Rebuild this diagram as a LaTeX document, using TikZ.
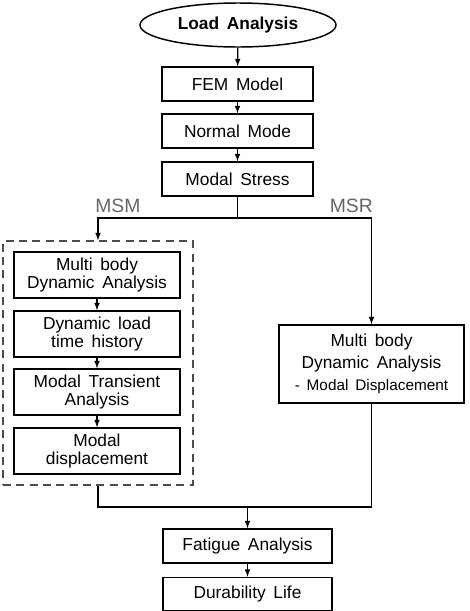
\documentclass[tikz,border=0pt]{standalone}
\usepackage{fontspec}
\setmainfont{Liberation Sans}[WordSpace=1.6]
\usepackage{tikz}
\usetikzlibrary{arrows,shapes.geometric}

\begin{document}
\begin{tikzpicture}[x=0.75pt,y=-0.75pt,>=latex,
    stepbox/.style={draw,line width=1.1pt,fill=white,inner sep=0pt,align=center,
        font=\fontsize{13}{13.5}\selectfont,minimum height=25.5pt},
    mainbox/.style={stepbox,minimum width=113.25pt},
    subbox/.style={stepbox,minimum width=124.5pt,minimum height=34.5pt},
    groupbox/.style={draw=black!70,line width=1.1pt,dash pattern=on 6pt off 4pt,
        minimum width=142.5pt,minimum height=183pt,inner sep=0pt},
    branch/.style={text=black!60,font=\fontsize{14.5}{15}\selectfont,inner sep=0pt},
    link/.style={line width=0.9pt}]
\useasboundingbox (0,0) rectangle (470,611);

    \node[draw,ellipse,line width=1.1pt,minimum width=147pt,minimum height=33pt,inner sep=0pt,
        font=\fontsize{13}{13}\selectfont\bfseries] (load) at (238,25) {Load Analysis};
    \node[mainbox] (fem) at (237.5,84) {FEM Model};
    \node[mainbox] (normal) at (237.5,131) {Normal Mode};
    \node[mainbox] (stress) at (237.5,179) {Modal Stress};

    % MSM branch
    \node[groupbox] (group) at (98,363) {};
    \node[subbox] (mbd) at (97,275) {Multi body\\Dynamic Analysis};
    \node[subbox] (dynload) at (97,334) {Dynamic load\\time history};
    \node[subbox] (transient) at (97,392) {Modal Transient\\Analysis};
    \node[subbox] (disp) at (97,451) {Modal\\displacement};

    % MSR branch
    \node[stepbox,minimum width=138.75pt,minimum height=58.5pt,
        font=\fontsize{13}{16.5}\selectfont] (mbdr) at (371.5,364)
        {Multi body\\Dynamic Analysis\\{\fontsize{11.5}{12}\selectfont - Modal Displacement}};

    \node[stepbox,minimum width=126.75pt] (fatigue) at (247.5,546) {Fatigue Analysis};
    \node[stepbox,minimum width=126.75pt,minimum height=24.75pt] (life) at (247.5,594) {Durability Life};

    \coordinate (split) at (237.5,218);
    \coordinate (join) at (247.5,507);

    \node[branch,anchor=base west] (msm) at (95,212) {MSM};
    \node[branch,anchor=base east] (msr) at (373,212) {MSR};

    \draw[link,->] (load) -- (fem);
    \draw[link,->] (fem) -- (normal);
    \draw[link,->] (normal) -- (stress);
    \draw[link] (stress) -- (split);
    \draw[link,->] (split) -| (group.north);
    \draw[link,->] (split) -| (mbdr.north);
    \draw[link,->] (mbd) -- (dynload);
    \draw[link,->] (dynload) -- (transient);
    \draw[link,->] (transient) -- (disp);
    \draw[link] (group.south) |- (join);
    \draw[link] (mbdr.south) |- (join);
    \draw[link,->] (join) -- (fatigue);
    \draw[link,->] (fatigue) -- (life);
\end{tikzpicture}
\end{document}
